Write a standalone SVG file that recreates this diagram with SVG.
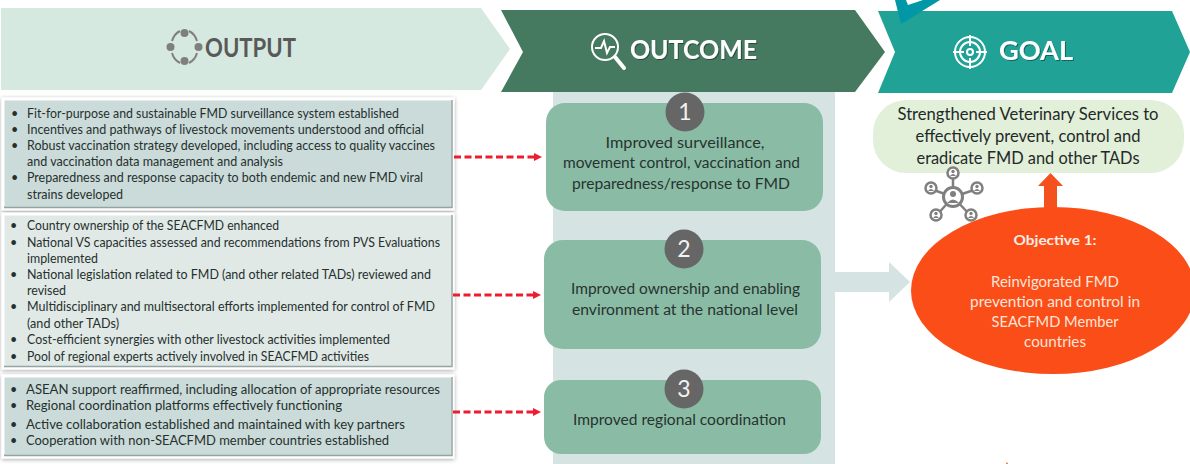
<svg xmlns="http://www.w3.org/2000/svg" width="1190" height="464" viewBox="0 0 1190 464">
<style>
text{font-family:"Lato","Carlito","Liberation Sans",sans-serif}
.li{font-size:12.500px;fill:#26302e}
.b{font-size:12.500px;fill:#26302e}
.box{stroke:#fff;stroke-width:3;filter:url(#sh)}
.edge{fill:none;stroke:#93a5a2;stroke-width:1.500}
.oc{fill:#8abca5}
.oct{font-size:14.500px;fill:#27332f;text-anchor:middle}
.num{font-size:23px;fill:#f2f2f2;text-anchor:middle}
.numc{fill:#666666}
.hd{font-size:26px;font-weight:700}
.gt{font-size:16.500px;fill:#1f2a28;text-anchor:middle}
.ob{font-size:14.500px;fill:#fbe5da;text-anchor:middle}
.red{fill:none;stroke:#ed1c2e;stroke-width:2.800;stroke-dasharray:7 3.500;marker-end:url(#ah)}
.ic{fill:none;stroke:#7f7f7f}
.icf{fill:#7f7f7f}
.wi{fill:none;stroke:#fff;stroke-width:2}
.sat{fill:#fff;stroke:#7f7f7f;stroke-width:2.500}
.hub{fill:#fff;stroke:#7f7f7f;stroke-width:3}
</style>
<defs>
<filter id="sh" x="-3%" y="-6%" width="106%" height="115%"><feDropShadow dx="0" dy="1" stdDeviation="2" flood-color="#000" flood-opacity="0.35"/></filter>
<filter id="ts" x="-5%" y="-10%" width="110%" height="125%"><feDropShadow dx="1" dy="1" stdDeviation="0.7" flood-color="#000" flood-opacity="0.4"/></filter>
<marker id="ah" markerWidth="9" markerHeight="9" refX="3" refY="4" orient="auto" markerUnits="userSpaceOnUse"><path d="M0 0L8 4L0 8Z" fill="#ed1c2e"/></marker>
<g id="sat-p"><circle r="5.500" class="sat"/><circle cy="-1.500" r="1.700" class="icf"/><path d="M-3 3Q0 -1 3 3Z" class="icf"/></g>
</defs>

<g id="band"><rect x="553" y="92" width="282" height="372" fill="#d5e4e2"/></g>
<path id="stray-mark" d="M1006 464L1007 462L1008 464Z" fill="#f4511e"/>

<g id="output-header">
<path d="M1 8H481L510 49L481 90H1Z" fill="#d5e9e0"/>
<g id="output-icon"><circle cx="184.500" cy="33" r="4" class="icf"/><circle cx="184.500" cy="61" r="4" class="icf"/><circle cx="170.500" cy="47" r="4" class="icf"/><circle cx="198.500" cy="47" r="4" class="icf"/>
<path d="M172 41Q174 34 180 31M189 31Q195 34 197 41M197 53Q195 60 189 63M180 63Q174 60 172 53" class="ic" stroke-width="2"/></g>
<text x="205" y="57" class="hd" fill="#595959" textLength="91" lengthAdjust="spacingAndGlyphs">OUTPUT</text>
</g>

<g id="outcome-header">
<path d="M501 10H855L885 52L855 92H501L523 52Z" fill="#457a61"/>
<g id="outcome-icon"><circle cx="605" cy="47" r="13" class="wi" stroke-width="3"/><path d="M615 57L624 68" stroke="#fff" stroke-width="4" stroke-linecap="round"/><path d="M595 48H601L604 41L607 53L610 47H615" class="wi" stroke-width="1.200"/></g>
<text x="630" y="59" class="hd" fill="#fff" filter="url(#ts)" textLength="127" lengthAdjust="spacingAndGlyphs">OUTCOME</text>
</g>

<g id="goal-header">
<path d="M878 11H1172L1190 52L1172 93H878L895 52Z" fill="#20a296"/>
<path d="M895 0L901 24L940 0H923L908 5L906 0Z" fill="#0097a7"/>
<g id="goal-icon"><circle cx="970" cy="52" r="15" class="wi"/><circle cx="970" cy="52" r="10" class="wi"/><circle cx="970" cy="52" r="3" class="wi" stroke-width="1.500"/><path d="M970 35V46M970 58V69M953 52H964M976 52H987" class="wi" stroke-width="1.500"/></g>
<text x="999" y="60" class="hd" fill="#fff" filter="url(#ts)" textLength="74" lengthAdjust="spacingAndGlyphs">GOAL</text>
</g>

<g id="output-1">
<rect x="3" y="99" width="450" height="110" class="box" fill="#cbdbd9"/>
<path class="edge" d="M4 207.500H452V100"/>
<text class="b" x="11" y="118">•</text><text class="li" x="27" y="118" textLength="372" lengthAdjust="spacingAndGlyphs">Fit-for-purpose and sustainable FMD surveillance system established</text>
<text class="b" x="11" y="134">•</text><text class="li" x="27" y="134" textLength="397" lengthAdjust="spacingAndGlyphs">Incentives and pathways of livestock movements understood and official</text>
<text class="b" x="11" y="150">•</text><text class="li" x="27" y="150" textLength="408" lengthAdjust="spacingAndGlyphs">Robust vaccination strategy developed, including access to quality vaccines</text>
<text class="li" x="27" y="166" textLength="256" lengthAdjust="spacingAndGlyphs">and vaccination data management and analysis</text>
<text class="b" x="11" y="182">•</text><text class="li" x="27" y="182" textLength="396" lengthAdjust="spacingAndGlyphs">Preparedness and response capacity to both endemic and new FMD viral</text>
<text class="li" x="27" y="199" textLength="96" lengthAdjust="spacingAndGlyphs">strains developed</text>
</g>

<g id="output-2">
<rect x="3" y="214" width="450" height="154" class="box" fill="#e0e9e6"/>
<path class="edge" d="M4 366.500H452V215"/>
<text class="b" x="10" y="230">•</text><text class="li" x="27" y="230" textLength="252" lengthAdjust="spacingAndGlyphs">Country ownership of the SEACFMD enhanced</text>
<text class="b" x="10" y="247">•</text><text class="li" x="27" y="247" textLength="413" lengthAdjust="spacingAndGlyphs">National VS capacities assessed and recommendations from PVS Evaluations</text>
<text class="li" x="27" y="263" textLength="71" lengthAdjust="spacingAndGlyphs">implemented</text>
<text class="b" x="10" y="279">•</text><text class="li" x="27" y="279" textLength="404" lengthAdjust="spacingAndGlyphs">National legislation related to FMD (and other related TADs) reviewed and</text>
<text class="li" x="27" y="295" textLength="39" lengthAdjust="spacingAndGlyphs">revised</text>
<text class="b" x="10" y="311">•</text><text class="li" x="27" y="311" textLength="408" lengthAdjust="spacingAndGlyphs">Multidisciplinary and multisectoral efforts implemented for control of FMD</text>
<text class="li" x="27" y="328" textLength="92" lengthAdjust="spacingAndGlyphs">(and other TADs)</text>
<text class="b" x="10" y="344">•</text><text class="li" x="27" y="344" textLength="363" lengthAdjust="spacingAndGlyphs">Cost-efficient synergies with other livestock activities implemented</text>
<text class="b" x="10" y="361">•</text><text class="li" x="27" y="361" textLength="342" lengthAdjust="spacingAndGlyphs">Pool of regional experts actively involved in SEACFMD activities</text>
</g>

<g id="output-3">
<rect x="3" y="376" width="450" height="81" class="box" fill="#cbdbd9"/>
<path class="edge" d="M4 455.500H452V377"/>
<text class="b" x="10" y="394">•</text><text class="li" x="26" y="394" textLength="414" lengthAdjust="spacingAndGlyphs">ASEAN support reaffirmed, including allocation of appropriate resources</text>
<text class="b" x="10" y="410">•</text><text class="li" x="26" y="410" textLength="316" lengthAdjust="spacingAndGlyphs">Regional coordination platforms effectively functioning</text>
<text class="b" x="10" y="429">•</text><text class="li" x="26" y="429" textLength="379" lengthAdjust="spacingAndGlyphs">Active collaboration established and maintained with key partners</text>
<text class="b" x="10" y="445">•</text><text class="li" x="26" y="445" textLength="363" lengthAdjust="spacingAndGlyphs">Cooperation with non-SEACFMD member countries established</text>
</g>

<g id="connectors">
<path class="red" d="M454 157H537"/>
<path class="red" d="M453 295H536"/>
<path class="red" d="M453 412H536"/>
<path d="M835 272H889V262L910 282L889 302V292H835Z" fill="#d5e4e2"/>
<path d="M1044 210V186H1038L1050.500 173L1063 186H1057V210Z" fill="#f4511e"/>
</g>

<g id="outcome-1">
<rect x="546" y="103" width="277" height="108" rx="19" class="oc"/>
<circle cx="685" cy="112" r="19.500" class="numc"/><text x="685" y="120" class="num">1</text>
<text x="685" y="148" class="oct" textLength="159" lengthAdjust="spacingAndGlyphs">Improved surveillance,</text>
<text x="681.500" y="168" class="oct" textLength="237" lengthAdjust="spacingAndGlyphs">movement control, vaccination and</text>
<text x="681" y="189" class="oct" textLength="218" lengthAdjust="spacingAndGlyphs">preparedness/response to FMD</text>
</g>
<g id="outcome-2">
<rect x="544" y="240" width="277" height="109" rx="19" class="oc"/>
<circle cx="684" cy="249" r="19.500" class="numc"/><text x="684" y="257" class="num">2</text>
<text x="685.500" y="294" class="oct" textLength="229" lengthAdjust="spacingAndGlyphs">Improved ownership and enabling</text>
<text x="685" y="315" class="oct" textLength="226" lengthAdjust="spacingAndGlyphs">environment at the national level</text>
</g>
<g id="outcome-3">
<rect x="544" y="380" width="277" height="74" rx="17" class="oc"/>
<circle cx="684" cy="389" r="19.500" class="numc"/><text x="684" y="397" class="num">3</text>
<text x="679.500" y="425" class="oct" textLength="213" lengthAdjust="spacingAndGlyphs">Improved regional coordination</text>
</g>

<g id="goal-box">
<rect x="873" y="100" width="311" height="73" rx="33" fill="#e2efd9"/>
<text x="1028" y="120" class="gt" textLength="261" lengthAdjust="spacingAndGlyphs">Strengthened Veterinary Services to</text>
<text x="1028" y="142" class="gt" textLength="225" lengthAdjust="spacingAndGlyphs">effectively prevent, control and</text>
<text x="1028" y="164" class="gt" textLength="223" lengthAdjust="spacingAndGlyphs">eradicate FMD and other TADs</text>
</g>

<g id="network-icon">
<path d="M953 178V197L931 189M953 197L977 189M953 197L936 216M953 197L971 216" class="ic" stroke-width="2.500"/>
<use href="#sat-p" x="953" y="173"/>
<use href="#sat-p" x="931" y="188"/>
<use href="#sat-p" x="977" y="188"/>
<use href="#sat-p" x="936" y="215"/>
<use href="#sat-p" x="971" y="215"/>
<circle cx="953" cy="197" r="9.500" class="hub"/>
<circle cx="953" cy="194" r="3" class="icf"/><path d="M947 203Q953 196 959 203Z" class="icf"/>
</g>

<g id="objective">
<ellipse cx="1053" cy="290.500" rx="142" ry="83.500" fill="#fb4d17"/>
<text x="1055" y="245" font-size="14" font-weight="700" fill="#fdeee5" text-anchor="middle" textLength="83" lengthAdjust="spacingAndGlyphs">Objective 1:</text>
<text x="1055" y="287" class="ob" textLength="128" lengthAdjust="spacingAndGlyphs">Reinvigorated FMD</text>
<text x="1055" y="307" class="ob" textLength="170" lengthAdjust="spacingAndGlyphs">prevention and control in</text>
<text x="1055" y="327" class="ob" textLength="127" lengthAdjust="spacingAndGlyphs">SEACFMD Member</text>
<text x="1055" y="347" class="ob" textLength="62" lengthAdjust="spacingAndGlyphs">countries</text>
</g>
</svg>
